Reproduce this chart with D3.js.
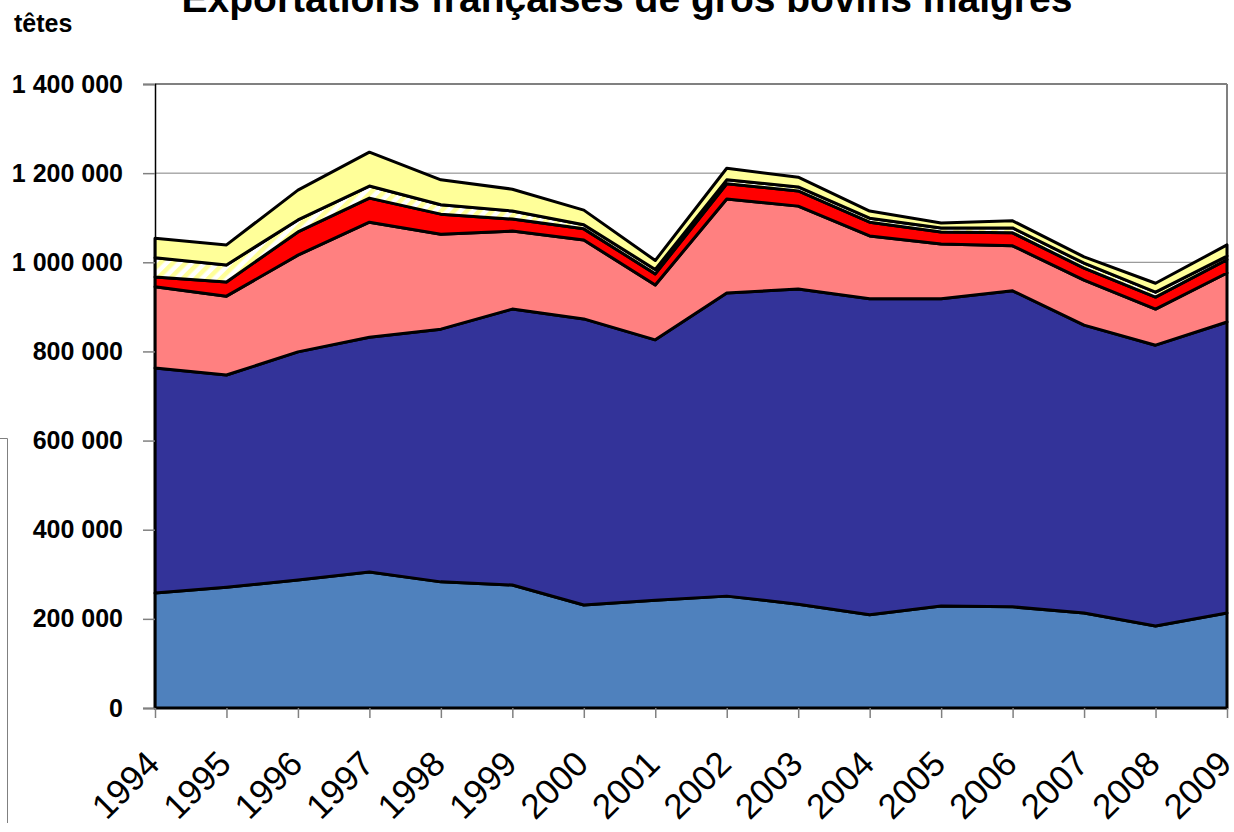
<!DOCTYPE html>
<html>
<head>
<meta charset="utf-8">
<script src="https://cdn.jsdelivr.net/npm/d3@7/dist/d3.min.js"></script>
<style>
  body { margin: 0; background: #fff; }
  text { font-family: "Liberation Sans", Arial, sans-serif; }
</style>
</head>
<body>
<svg id="chart" width="1234" height="832"></svg>
<script>
// years on the x axis
var years = [1994, 1995, 1996, 1997, 1998, 1999, 2000, 2001, 2002, 2003, 2004, 2005, 2006, 2007, 2008, 2009];

// head counts per layer, bottom to top
var serieBleu  = [258000, 271000, 287000, 305000, 283000, 276000, 231000, 242000, 251000, 233000, 209000, 229000, 227000, 213000, 184000, 213000];
var serieMarine = [505000, 476000, 512000, 527000, 567000, 619000, 642000, 584000, 680000, 707000, 709000, 689000, 709000, 646000, 630000, 653000];
var serieRose  = [182000, 177000, 217000, 258000, 213000, 175000, 177000, 123000, 211000, 186000, 141000, 123000, 101000, 101000, 81000, 110000];
var serieRouge = [22000, 32000, 52000, 54000, 45000, 27000, 25000, 25000, 34000, 34000, 31000, 27000, 29000, 27000, 27000, 30000];
var serieHachure = [43000, 38000, 27000, 27000, 21000, 18000, 9000, 10000, 9000, 9000, 9000, 9000, 11000, 11000, 11000, 8000];
var serieJaune = [44000, 45000, 67000, 76000, 56000, 49000, 33000, 20000, 26000, 22000, 16000, 11000, 16000, 14000, 20000, 25000];

var yTicks = [0, 200000, 400000, 600000, 800000, 1000000, 1200000, 1400000];

(function() {

var keys = ["bleu", "marine", "rose", "rouge", "hachure", "jaune"];
var fills = {
  bleu: "#4F81BD",
  marine: "#333399",
  rose: "#FF8080",
  rouge: "#FF0000",
  hachure: "url(#hatch)",
  jaune: "#FFFF99"
};

var rows = years.map(function(yr, i) {
  return {
    year: yr,
    bleu: serieBleu[i],
    marine: serieMarine[i],
    rose: serieRose[i],
    rouge: serieRouge[i],
    hachure: serieHachure[i],
    jaune: serieJaune[i]
  };
});

var svg = d3.select("#chart");

var pLeft = 155, pRight = 1227, pTop = 84, pBottom = 708;

var x = d3.scaleLinear().domain([1994, 2009]).range([pLeft, pRight]);
var y = d3.scaleLinear().domain([0, 1400000]).range([pBottom, pTop]);

// striped fill for the thin white/yellow layer
var defs = svg.append("defs");
var pat = defs.append("pattern")
    .attr("id", "hatch")
    .attr("patternUnits", "userSpaceOnUse")
    .attr("width", 9)
    .attr("height", 9)
    .attr("patternTransform", "rotate(45)");
pat.append("rect").attr("width", 9).attr("height", 9).attr("fill", "#fff");
pat.append("rect").attr("width", 4.5).attr("height", 9).attr("fill", "#FFFF99");

// gridlines + frame
svg.append("g")
    .selectAll("line")
    .data(yTicks.filter(function(d) { return d > 0; }))
    .enter().append("line")
    .attr("x1", pLeft).attr("x2", pRight)
    .attr("y1", function(d) { return y(d); })
    .attr("y2", function(d) { return y(d); })
    .attr("stroke", "#808080")
    .attr("stroke-width", function(d) { return d == 1400000 ? 2 : 1; });

svg.append("line")
    .attr("x1", pRight).attr("x2", pRight)
    .attr("y1", pTop).attr("y2", pBottom)
    .attr("stroke", "#808080").attr("stroke-width", 2);

var stack = d3.stack().keys(keys);
var layers = stack(rows);

var area = d3.area()
    .x(function(d) { return x(d.data.year); })
    .y0(function(d) { return y(d[0]); })
    .y1(function(d) { return y(d[1]); });

svg.append("g")
    .selectAll("path")
    .data(layers)
    .enter().append("path")
    .attr("d", area)
    .attr("fill", function(d) { return fills[d.key]; })
    .attr("stroke", "#000")
    .attr("stroke-width", 3)
    .attr("stroke-linejoin", "round");

// y axis
var fmt = function(v) { return d3.format(",")(v).replace(/,/g, " "); };

var yAxis = svg.append("g")
    .attr("transform", "translate(" + pLeft + ",0)")
    .call(d3.axisLeft(y).tickValues(yTicks).tickSize(12).tickPadding(20).tickFormat(fmt));
yAxis.select(".domain").attr("stroke", "#000").attr("stroke-width", 1.5);
yAxis.selectAll(".tick line").attr("stroke", "#808080").attr("stroke-width", 1.5);
yAxis.selectAll(".tick text")
    .attr("fill", "#000")
    .style("font-size", "25px")
    .style("font-weight", "bold")
    .style("font-family", "'Liberation Sans', Arial, sans-serif");

// x axis
var xAxis = svg.append("g")
    .attr("transform", "translate(0," + pBottom + ")")
    .call(d3.axisBottom(x).tickValues(years).tickSize(10).tickFormat(d3.format("d")));
xAxis.select(".domain").remove();
xAxis.selectAll(".tick line").attr("stroke", "#808080").attr("stroke-width", 1.5);
xAxis.selectAll(".tick text")
    .attr("x", 0).attr("y", 0).attr("dy", 0)
    .attr("transform", "translate(6,58) rotate(-45)")
    .attr("text-anchor", "end")
    .attr("fill", "#000")
    .style("font-size", "35px")
    .style("font-family", "'Liberation Sans', Arial, sans-serif");

// title and unit
svg.append("text")
    .attr("x", 627)
    .attr("y", 12)
    .attr("text-anchor", "middle")
    .style("font-size", "39px")
    .style("font-weight", "bold")
    .text("Exportations françaises de gros bovins maigres");

svg.append("text")
    .attr("x", 14)
    .attr("y", 32)
    .style("font-size", "25px")
    .style("font-weight", "bold")
    .text("têtes");

// edge of a box cut off on the left
svg.append("path")
    .attr("d", "M0,438.5H7.5V823")
    .attr("fill", "none")
    .attr("stroke", "#808080")
    .attr("stroke-width", 1);

})();
</script>
</body>
</html>
